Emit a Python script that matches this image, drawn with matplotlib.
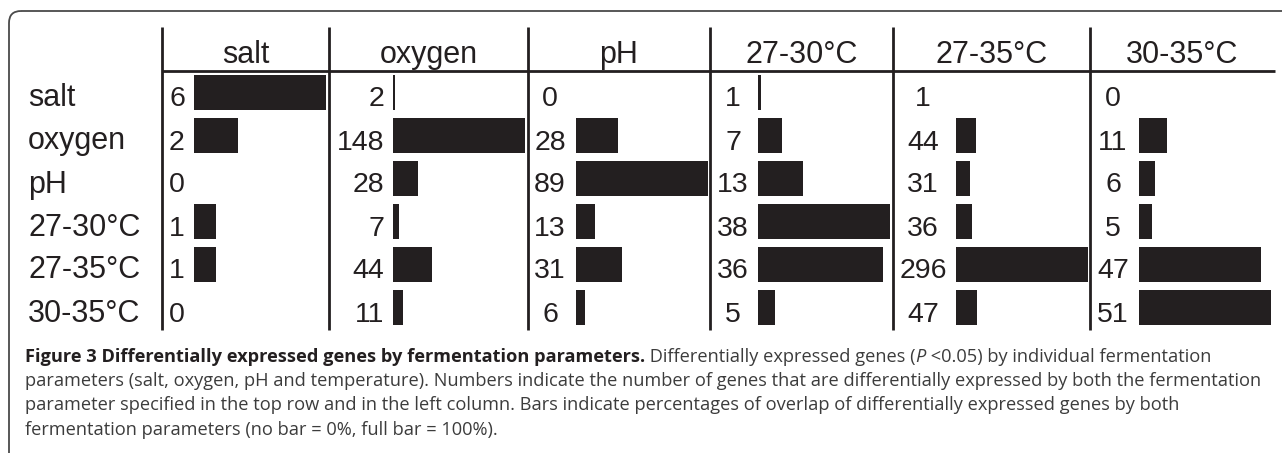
import numpy as np
import matplotlib.pyplot as plt
from matplotlib.patches import FancyBboxPatch

# fermentation parameters (top row = columns, left column = rows)
params = ['salt', 'oxygen', 'pH', '27-30°C', '27-35°C', '30-35°C']

# number of genes differentially expressed by both parameters
salt_row = [6, 2, 0, 1, 1, 0]
oxygen_row = [2, 148, 28, 7, 44, 11]
ph_row = [0, 28, 89, 13, 31, 6]
t2730_row = [1, 7, 13, 38, 36, 5]
t2735_row = [1, 44, 31, 36, 296, 47]
t3035_row = [0, 11, 6, 5, 47, 51]

caption_lines = [
    [("Figure 3 Differentially expressed genes by fermentation parameters.", 'bold', 'normal'),
     (" Differentially expressed genes (", 'normal', 'normal'),
     ("P", 'normal', 'italic'),
     (" <0.05) by individual fermentation", 'normal', 'normal')],
    [("parameters (salt, oxygen, pH and temperature). Numbers indicate the number of genes "
      "that are differentially expressed by both the fermentation", 'normal', 'normal')],
    [("parameter specified in the top row and in the left column. Bars indicate percentages "
      "of overlap of differentially expressed genes by both", 'normal', 'normal')],
    [("fermentation parameters (no bar = 0%, full bar = 100%).", 'normal', 'normal')],
]

counts = np.array([salt_row, oxygen_row, ph_row, t2730_row, t2735_row, t3035_row])
# bar = overlap relative to the column parameter's own gene count
pct = counts / np.diag(counts)[None, :]

INK = '#231f20'
W, H = 1282, 453

fig = plt.figure(figsize=(W / 100, H / 100), dpi=100)
ax = fig.add_axes([0, 0, 1, 1])
ax.set_xlim(0, W)
ax.set_ylim(H, 0)
ax.axis('off')

# outer rounded frame (right and bottom run off the page)
frame = FancyBboxPatch((9, 11), W + 40, H + 40,
                       boxstyle='round,pad=0,rounding_size=12',
                       fc='none', ec='#4a4a4a', lw=1.3)
ax.add_patch(frame)

# table geometry in pixels
col_left = [162, 329, 528, 710, 893, 1090]
col_right = col_left[1:] + [1275]
bar_off = [32, 64, 48, 48, 63, 49]
num_x = [177, 384, 550, 733, 923, 1113]
num_ha = ['center', 'right', 'center', 'center', 'center', 'center']
full_bar = 132
row_y = 92 + 43 * np.arange(len(params))
fam = ['Liberation Sans', 'DejaVu Sans']

for j, name in enumerate(params):
    ax.text((col_left[j] + col_right[j]) / 2, 63, name, ha='center',
            va='baseline', fontsize=22, family=fam, color=INK)
    ax.barh(row_y, pct[:, j] * full_bar, left=col_left[j] + bar_off[j],
            height=35, color=INK, lw=0)
    for i in range(len(params)):
        ax.text(num_x[j], row_y[i] + 14.5, str(counts[i, j]), ha=num_ha[j],
                va='baseline', fontsize=20.5, family=fam, color=INK)
    ax.plot([col_left[j], col_left[j]], [27, 330], color=INK, lw=2, solid_capstyle='butt')

ax.plot([col_left[0], col_right[-1]], [71, 71], color=INK, lw=2, solid_capstyle='butt')

for i, name in enumerate(params):
    ax.text(28, row_y[i] + 14.5, name, ha='left', va='baseline',
            fontsize=22, family=fam, color=INK)

# caption, sized so the second line spans the reference width
cap_fam = ['Open Sans', 'DejaVu Sans']
renderer = fig.canvas.get_renderer()
probe = ax.text(0, 0, caption_lines[1][0][0], fontsize=14, family=cap_fam)
cap_size = 14 * 1245 / probe.get_window_extent(renderer).width
probe.remove()

baselines = [362, 386, 410, 435]
for runs, yb in zip(caption_lines, baselines):
    x = 25
    for txt, weight, style in runs:
        t = ax.text(x, yb, txt, ha='left', va='baseline', fontsize=cap_size,
                    family=cap_fam, weight=weight, style=style,
                    color='#231f20' if weight == 'bold' else '#3c3c3c')
        x += t.get_window_extent(renderer).width

fig.savefig('out.png', dpi=100)
